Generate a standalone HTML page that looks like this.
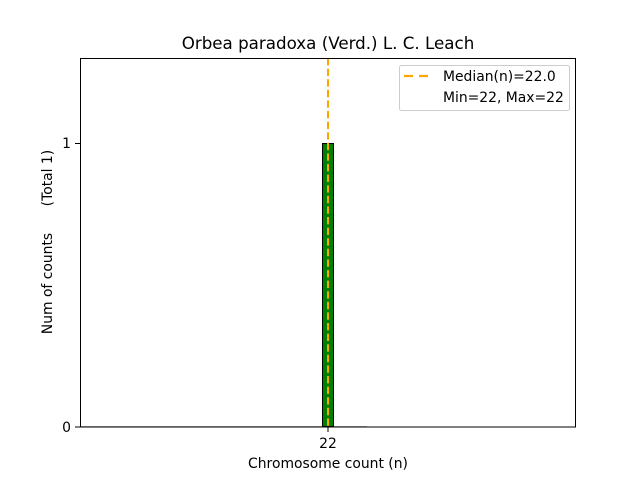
<!DOCTYPE html>
<html><head><style>body{margin:0;background:#fff}svg{display:block}</style></head><body>
<svg width="640" height="480" xmlns="http://www.w3.org/2000/svg" font-family="DejaVu Sans, Liberation Sans, sans-serif">
<rect width="640" height="480" fill="#fff"/>
<text x="328" y="49" font-size="16.7" text-anchor="middle">Orbea paradoxa (Verd.) L. C. Leach</text>
<line x1="80" y1="426.5" x2="367" y2="426.5" stroke="#bbb" stroke-width="1"/>
<rect x="322.5" y="143.5" width="11" height="283" fill="#008000" stroke="#000" stroke-width="1"/>
<line x1="328" y1="58" x2="328" y2="427" stroke="#ffa500" stroke-width="2" stroke-dasharray="7.4,3.2"/>
<rect x="80.5" y="58.5" width="495" height="368.5" fill="none" stroke="#000" stroke-width="1"/>
<line x1="75" y1="143.5" x2="80" y2="143.5" stroke="#000"/>
<line x1="75" y1="427" x2="80" y2="427" stroke="#000"/>
<text x="71" y="148" font-size="13.9" text-anchor="end">1</text>
<text x="71" y="432" font-size="13.9" text-anchor="end">0</text>
<line x1="328" y1="427" x2="328" y2="432" stroke="#000"/>
<text x="328" y="448" font-size="13.9" text-anchor="middle">22</text>
<text x="328" y="468" font-size="13.9" text-anchor="middle">Chromosome count (n)</text>
<text transform="translate(52,242) rotate(-90)" font-size="13.9" text-anchor="middle" xml:space="preserve" style="white-space:pre">Num of counts      (Total 1)</text>
<rect x="399.5" y="65.5" width="170" height="45" rx="2" fill="#fff" stroke="#ccc"/>
<line x1="404" y1="76" x2="432" y2="76" stroke="#ffa500" stroke-width="2.2" stroke-dasharray="9,6"/>
<text x="443" y="81" font-size="13.9">Median(n)=22.0</text>
<text x="443" y="102" font-size="13.9">Min=22, Max=22</text>
</svg>
</body></html>
